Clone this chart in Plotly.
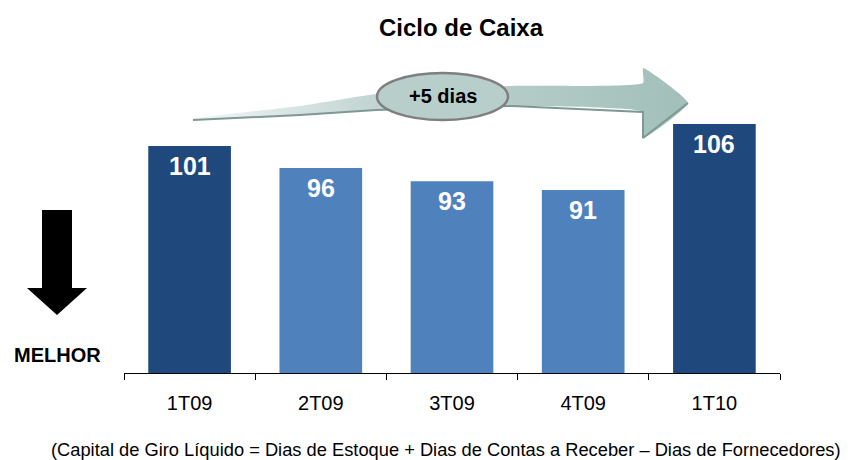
import plotly.graph_objects as go

categories = ["1T09", "2T09", "3T09", "4T09", "1T10"]
values = [101, 96, 93, 91, 106]
bar_colors = ["#1F497D", "#4F81BD", "#4F81BD", "#4F81BD", "#1F497D"]
title = "Ciclo de Caixa"
badge = "+5 dias"
side_label = "MELHOR"
footnote = "(Capital de Giro Líquido = Dias de Estoque + Dias de Contas a Receber – Dias de Fornecedores)"

FONT = "Liberation Sans, Arial, sans-serif"
W, H = 856, 460
OFF = 8  # page body margin in the browser
# plot area in reference pixel coordinates
X0, X1, Y0, Y1 = 124, 780, 60, 373
ML, MR, MT, MB = X0 - OFF, W - X1 + OFF, Y0 - OFF, H - Y1 + OFF
BASE = 49.4
PXU = 4.4  # pixels per unit


def px(x):
    return (x - X0) / (X1 - X0)


def py(y):
    return (Y1 - y) / (Y1 - Y0)


def path(cmds):
    out = []
    for c in cmds:
        out.append(c if isinstance(c, str) else f"{px(c[0]):.5f},{py(c[1]):.5f}")
    return " ".join(out)


fig = go.Figure()
fig.add_trace(go.Bar(x=categories, y=[v - BASE for v in values], base=BASE,
                     marker=dict(color=bar_colors, line=dict(width=0)),
                     width=0.63, hoverinfo="skip"))

for c, v in zip(categories, values):
    fig.add_annotation(x=c, y=v, xref="x", yref="y", text=f"<b>{v}</b>", showarrow=False,
                       yanchor="middle", yshift=-20,
                       font=dict(family=FONT, size=25, color="white"))

# curved arrow (decoration) on a pixel overlay axis
ax = [193, 300, 376, 512, 643, 643, 688, 643, 643, 512, 376, 300, 193]
ay = [118, 106, 94, 86, 83, 68, 103, 138, 112, 106, 110, 115, 120]
fig.add_trace(go.Scatter(x=ax, y=ay, xaxis="x2", yaxis="y2", mode="lines", fill="toself",
                         line=dict(color="rgba(0,0,0,0)", width=0, shape="spline", smoothing=0.4),
                         fillgradient=dict(type="horizontal",
                                           colorscale=[[0, "#F2F7F6"], [0.35, "#C3D6D3"], [1, "#A2BFBA"]]),
                         hoverinfo="skip"))
# shadow edge
fig.add_trace(go.Scatter(x=[193, 300, 376, 512, 643, 643, 688], y=[120, 115, 110, 106, 112, 138, 103],
                         xaxis="x2", yaxis="y2", mode="lines",
                         line=dict(color="#7E9894", width=2),
                         hoverinfo="skip"))

shapes = [
    dict(type="circle", xref="x2", yref="y2", x0=377, x1=508, y0=120, y1=73,
         fillcolor="#B7CECA", line=dict(color="#7F7F7F", width=2.5), layer="above"),
    dict(type="path", xref="paper", yref="paper",
         path=path(["M", (42, 210), "L", (72, 210), "L", (72, 288), "L", (87, 288), "L", (57, 315),
                    "L", (27, 288), "L", (42, 288), "Z"]),
         fillcolor="black", line=dict(width=0), layer="above"),
]
fig.update_layout(shapes=shapes)

fig.add_annotation(xref="x2", yref="y2", x=443, y=96, text=f"<b>{badge}</b>", showarrow=False,
                   xanchor="center", yanchor="middle",
                   font=dict(family=FONT, size=20, color="black"))
fig.add_annotation(xref="paper", yref="paper", x=px(461), y=py(27), text=f"<b>{title}</b>",
                   showarrow=False, xanchor="center", yanchor="middle",
                   font=dict(family=FONT, size=24, color="black"))
fig.add_annotation(xref="paper", yref="paper", x=px(57.5), y=py(355), text=f"<b>{side_label}</b>",
                   showarrow=False, xanchor="center", yanchor="middle",
                   font=dict(family=FONT, size=20, color="black"))
fig.add_annotation(xref="paper", yref="paper", x=px(49), y=py(449), xanchor="left", yanchor="middle",
                   text=footnote, showarrow=False,
                   font=dict(family=FONT, size=18.3, color="black"))

fig.update_layout(
    xaxis=dict(showline=True, linecolor="black", linewidth=1, ticks="outside", tickson="boundaries",
               ticklen=6, tickcolor="black", showgrid=False, ticklabelstandoff=12,
               tickfont=dict(family=FONT, size=20, color="black")),
    yaxis=dict(visible=False, range=[BASE, BASE + (Y1 - Y0) / PXU]),
    xaxis2=dict(overlaying="x", range=[X0, X1], visible=False, anchor="y2"),
    yaxis2=dict(overlaying="y", range=[Y1, Y0], visible=False, anchor="x2"),
    width=W, height=H, margin=dict(l=ML, r=MR, t=MT, b=MB),
    plot_bgcolor="white", paper_bgcolor="white", showlegend=False, bargap=0.37,
)

fig.write_html("out.html")
